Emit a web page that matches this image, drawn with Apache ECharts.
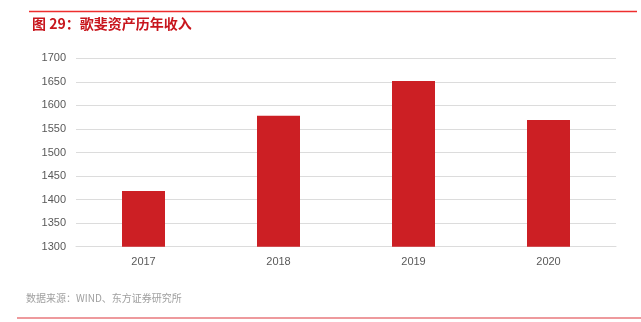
<!DOCTYPE html>
<html><head><meta charset="utf-8">
<script src="https://cdn.jsdelivr.net/npm/echarts@6/dist/echarts.min.js"></script>
<style>html,body{margin:0;padding:0;background:#fff}#c{width:641px;height:322px}</style>
</head><body><div id="c"></div>
<script>
var categories = ['2017', '2018', '2019', '2020'];
var revenue = [1418, 1578, 1652, 1569];
var yTicks = [1300, 1350, 1400, 1450, 1500, 1550, 1600, 1650, 1700];
var titleText = '图 29：歌斐资产历年收入';
var sourceText = '数据来源：WIND、东方证券研究所';

var chart = echarts.init(document.getElementById('c'), null, {renderer: 'canvas'});
chart.setOption({
  animation: false,
  backgroundColor: '#fff',
  grid: {left: 76, right: 25, top: 58.3, bottom: 75.3},
  graphic: {
    elements: [
      {type: 'line', id: 'topline', z: 100, silent: true,
        shape: {x1: 29, y1: 11.5, x2: 637, y2: 11.5},
        style: {stroke: '#ee2e2e', lineWidth: 1.3}},
      {type: 'text', id: 'title', left: 32, top: 17, silent: true,
        style: {text: titleText, fill: '#c8161d', font: 'bold 14px "Noto Sans CJK SC", sans-serif'}},
      {type: 'text', id: 'source', left: 26, top: 293, silent: true,
        style: {text: sourceText, fill: '#a0a0a0', font: '10px "Noto Sans CJK SC", sans-serif'}},
      {type: 'line', id: 'bottomline', z: 100, silent: true,
        shape: {x1: 17, y1: 318, x2: 641, y2: 318},
        style: {stroke: '#e8797c', lineWidth: 1.5}}
    ]
  },
  xAxis: {
    type: 'category', data: categories,
    axisLine: {show: true, lineStyle: {color: '#dcdcdc'}},
    axisTick: {show: false},
    axisLabel: {color: '#595959', fontSize: 11, margin: 10, fontFamily: 'Liberation Sans, Arial, sans-serif'}
  },
  yAxis: {
    type: 'value', min: yTicks[0], max: yTicks[yTicks.length - 1], interval: 50,
    axisLine: {show: false}, axisTick: {show: false},
    splitLine: {lineStyle: {color: '#dcdcdc', width: 1}},
    axisLabel: {color: '#595959', fontSize: 11, margin: 10, fontFamily: 'Liberation Sans, Arial, sans-serif',
      formatter: function (v) { return String(v); }}
  },
  series: [{
    type: 'bar', data: revenue, barWidth: 43,
    itemStyle: {color: '#cc1f24'}
  }]
});
</script></body></html>
